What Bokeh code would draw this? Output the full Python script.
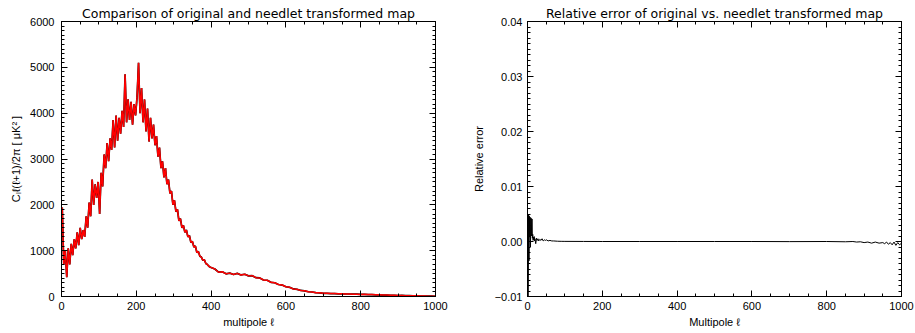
from bokeh.plotting import figure
from bokeh.layouts import row
from bokeh.models import Range1d, LinearAxis, SingleIntervalTicker, CustomJSTickFormatter
from bokeh.embed import file_html
from bokeh.resources import INLINE

# ---------------- data: power spectrum (left panel) ----------------
ell_low = list(range(2, 399, 4))  # 2, 6, ..., 398
cl_low = [1940, 700, 1000, 420, 1050, 700, 1150, 900, 1250, 1050,
          1400, 1120, 1500, 1250, 1450, 1300, 1750, 1500, 2050, 1750,
          2550, 2000, 2450, 2150, 2500, 1800, 2700, 2400, 3100, 2800,
          3350, 2950, 3450, 3200, 3850, 3250, 3950, 3400, 3900, 3550,
          4050, 3700, 4850, 3800, 4300, 3850, 4250, 3750, 4200, 3950,
          4350, 5100, 4000, 4550, 3800, 4300, 3600, 4100, 3380, 3900,
          3450, 3750, 3300, 3500, 3050, 3250, 2800, 2950, 2600, 2800,
          2450, 2550, 2250, 2300, 2000, 2100, 1850, 1900, 1650, 1700,
          1500, 1550, 1400, 1450, 1300, 1330, 1180, 1200, 1080, 1100,
          960, 980, 880, 860, 790, 800, 720, 700, 660, 640]
ell_high = list(range(410, 1001, 10))  # 410, 420, ..., 1000
cl_high = [600, 530, 540, 495, 510, 480, 505, 470, 485, 450,
           455, 410, 405, 360, 355, 310, 300, 262, 250, 212,
           200, 165, 156, 132, 124, 104, 98, 84, 80, 70,
           69, 63, 63, 58, 59, 54, 55, 50, 51, 46,
           47, 42, 43, 37, 37, 32, 32, 27, 27, 22,
           23, 18, 19, 14, 15, 10, 11, 7, 8, 5]
ell_cl = ell_low + ell_high
cl_original = cl_low + cl_high
cl_needlet = cl_low + cl_high

# ---------------- data: relative error (right panel) ----------------
err_ell = [2, 3, 4, 5, 6, 7, 8, 9, 10, 11,
           12, 13, 14, 15, 16, 17, 18, 19, 20, 22,
           24, 26, 28, 30, 33, 36, 39, 42, 45, 48,
           51, 55, 60, 65, 70, 80, 90, 100, 150, 200,
           300, 400, 500, 600, 700, 800, 850, 870, 880, 890,
           900, 910, 920, 930, 940, 950, 955, 960, 965, 970,
           975, 980, 985, 990, 995, 1000]
err_val = [-0.0125, 0.0050, -0.0035, 0.0046, 0.0008, 0.0044, -0.0010, 0.0043, 0.0042, 0.0010,
           0.0041, 0.0006, 0.0013, 0.0002, 0.0008, 0.0003, 0.0009, 0.0001, 0.0005, -0.0004,
           0.0006, 0.0002, 0.0005, 0.0001, 0.0004, 0.0002, 0.0005, 0.0001, 0.0003, 0.0002,
           0.0003, 0.0001, 0.0002, 0.0001, 0.0001, 0.00005, 0.00003, 0.00002, 0.00001, 0.0,
           0.0, 0.0, 0.0, 0.0, -0.00002, 0.0, -0.00005, 0.0, -0.0001, -0.00005,
           -0.0002, -0.0001, -0.0003, -0.0001, -0.0003, -0.0002, -0.0004, -0.0001, -0.0005, -0.0002,
           -0.0006, -0.0001, -0.0007, -0.0002, -0.0006, -0.0003]

TITLE_L = "Comparison of original and needlet transformed map"
TITLE_R = "Relative error of original vs. needlet transformed map"
XLABEL_L = "multipole \u2113"
XLABEL_R = "Multipole \u2113"
YLABEL_L = "C\u2097\u2113(\u2113+1)/2\u03c0 [ \u03bcK\u00b2 ]"
YLABEL_R = "Relative error"

FONT = "Liberation Sans"
TICK_SIZE = "11px"
LABEL_SIZE = "11px"


def style_axis(ax, standoff=7, empty=False):
    ax.axis_line_color = "black"
    ax.major_tick_line_color = "black"
    ax.minor_tick_line_color = "black"
    ax.major_tick_in = 6
    ax.major_tick_out = 0
    ax.minor_tick_in = 3
    ax.minor_tick_out = 0
    ax.major_label_text_color = "black"
    ax.major_label_text_font = FONT
    ax.major_label_text_font_size = TICK_SIZE
    ax.major_label_standoff = standoff
    ax.axis_label_text_font = FONT
    ax.axis_label_text_font_size = LABEL_SIZE
    ax.axis_label_text_font_style = "normal"
    ax.axis_label_text_color = "black"
    if empty:
        ax.formatter = CustomJSTickFormatter(code="return '';")
        ax.major_label_standoff = 0


def make_fig(width, left, right, yr, title):
    p = figure(width=width, height=333, x_range=Range1d(0, 1000), y_range=yr,
               output_backend="svg", toolbar_location=None,
               min_border_left=left, min_border_right=right,
               min_border_top=21, min_border_bottom=37)
    p.title.text = title
    p.title.align = "center"
    p.title.text_font = "DejaVu Sans"
    p.title.text_font_size = "12.5px"
    p.title.text_font_style = "normal"
    p.title.text_color = "black"
    p.title.standoff = 2
    p.grid.visible = False
    p.outline_line_color = "black"
    p.background_fill_color = "white"
    p.border_fill_color = "white"
    return p


# ---------------- left panel ----------------
p1 = make_fig(458, 61, 23, Range1d(0, 6000), TITLE_L)
xt1 = SingleIntervalTicker(interval=200, num_minor_ticks=4)
yt1 = SingleIntervalTicker(interval=1000, num_minor_ticks=10)
p1.xaxis.ticker = xt1
p1.yaxis.ticker = yt1
p1.xaxis.axis_label = XLABEL_L
p1.yaxis.axis_label = YLABEL_L
style_axis(p1.xaxis[0], standoff=5)
style_axis(p1.yaxis[0], standoff=7)
p1.xaxis.axis_label_standoff = 3
p1.yaxis.axis_label_standoff = 5
top1 = LinearAxis(ticker=xt1)
right1 = LinearAxis(ticker=yt1)
style_axis(top1, empty=True)
style_axis(right1, empty=True)
p1.add_layout(top1, "above")
p1.add_layout(right1, "right")
p1.line(ell_cl, cl_original, line_color="black", line_width=1.7)
p1.line(ell_cl, cl_needlet, line_color="#ff0000", line_width=1.5)

# ---------------- right panel ----------------
p2 = make_fig(457, 69, 14, Range1d(-0.01, 0.04), TITLE_R)
xt2 = SingleIntervalTicker(interval=200, num_minor_ticks=4)
yt2 = SingleIntervalTicker(interval=0.01, num_minor_ticks=10)
p2.xaxis.ticker = xt2
p2.yaxis.ticker = yt2
p2.yaxis.formatter = CustomJSTickFormatter(
    code="if (Math.abs(tick) < 1e-9) { return '0.00'; } return tick.toFixed(2).replace('-', '\u2212');")
p2.xaxis.axis_label = XLABEL_R
p2.yaxis.axis_label = YLABEL_R
style_axis(p2.xaxis[0], standoff=5)
style_axis(p2.yaxis[0], standoff=5)
p2.xaxis.axis_label_standoff = 3
p2.yaxis.axis_label_standoff = 7
top2 = LinearAxis(ticker=xt2)
right2 = LinearAxis(ticker=yt2)
style_axis(top2, empty=True)
style_axis(right2, empty=True)
p2.add_layout(top2, "above")
p2.add_layout(right2, "right")
p2.line(err_ell, err_val, line_color="black", line_width=1.0)

layout = row(p1, p2)
open("out.html", "w").write(file_html(layout, INLINE))
